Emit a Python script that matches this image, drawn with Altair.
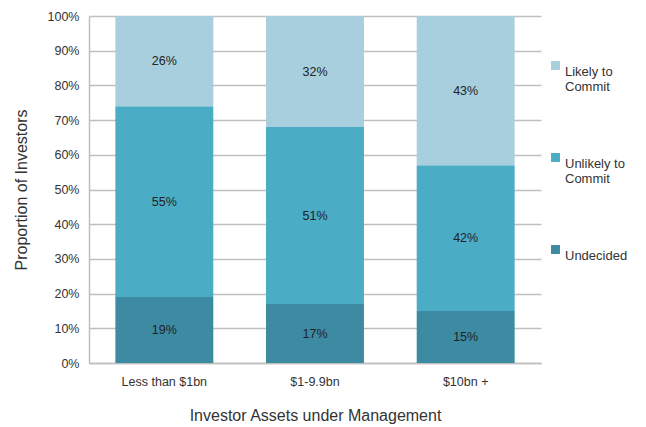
import altair as alt
import pandas as pd

categories = ["Less than $1bn", "$1-9.9bn", "$10bn +"]
series = ["Undecided", "Unlikely to Commit", "Likely to Commit"]
undecided = [19, 17, 15]
unlikely = [55, 51, 42]
likely = [26, 32, 43]
colors = ["#3D8BA2", "#4BACC6", "#A8CFDD"]
y_ticks = [0, 0.1, 0.2, 0.3, 0.4, 0.5, 0.6, 0.7, 0.8, 0.9, 1.0]

rows = []
for i, c in enumerate(categories):
    for k, (s, vals) in enumerate(zip(series, [undecided, unlikely, likely])):
        rows.append({"cat": c, "series": s, "value": vals[i] / 100.0, "order": k,
                     "label": f"{vals[i]}%"})
df = pd.DataFrame(rows)

FONT = "Liberation Sans"

y_axis = alt.Axis(format=".0%", values=y_ticks, labelOverlap=False,
                  labelFontSize=12.5, labelColor="#333333", labelPadding=10,
                  ticks=False, titleFontSize=16, titleFontWeight="normal",
                  titleColor="#333333", titlePadding=18,
                  domainColor="#BFBFBF", domainWidth=1.5,
                  gridColor="#BFBFBF", gridWidth=1.5)
y_scale = alt.Scale(domain=[0, 1], nice=False)

base = alt.Chart(df).encode(
    x=alt.X("cat:N", sort=categories, title="Investor Assets under Management",
            scale=alt.Scale(paddingInner=0.35, paddingOuter=0.175),
            axis=alt.Axis(labelAngle=0, labelFontSize=12.5, labelColor="#333333",
                          titleFontSize=16, titleFontWeight="normal", titleColor="#333333",
                          titlePadding=20, labelPadding=12, ticks=False,
                          domainColor="#BFBFBF", domainWidth=1.5)),
)

bars = base.mark_bar().encode(
    y=alt.Y("value:Q", stack="zero", title="Proportion of Investors",
            scale=y_scale, axis=y_axis),
    color=alt.Color("series:N", sort=series[::-1],
                    scale=alt.Scale(domain=series[::-1], range=colors[::-1]),
                    legend=alt.Legend(title=None, orient="none", legendX=460, legendY=43,
                                      symbolType="square", symbolSize=80, symbolStrokeWidth=0,
                                      labelFontSize=13, labelColor="#333333",
                                      labelExpr="datum.label == 'Likely to Commit' ? ['Likely to', 'Commit'] : datum.label == 'Unlikely to Commit' ? ['Unlikely to', 'Commit'] : [datum.label, '']",
                                      rowPadding=57, labelBaseline="top", labelOffset=3)),
    order=alt.Order("order:Q"),
)

text = base.mark_text(fontSize=12.5, color="#222222", font=FONT).encode(
    y=alt.Y("value:Q", stack="zero", bandPosition=0.5, title="Proportion of Investors",
            scale=y_scale, axis=y_axis),
    text="label:N",
    order=alt.Order("order:Q"),
)

chart = alt.layer(bars, text).properties(
    width=452, height=347,
    autosize=alt.AutoSizeParams(type="none"),
    padding={"left": 81, "top": 8, "right": 97, "bottom": 62},
).configure(font=FONT).configure_view(stroke=None)

chart.save("out.html", embed_options={"renderer": "svg", "actions": False})
